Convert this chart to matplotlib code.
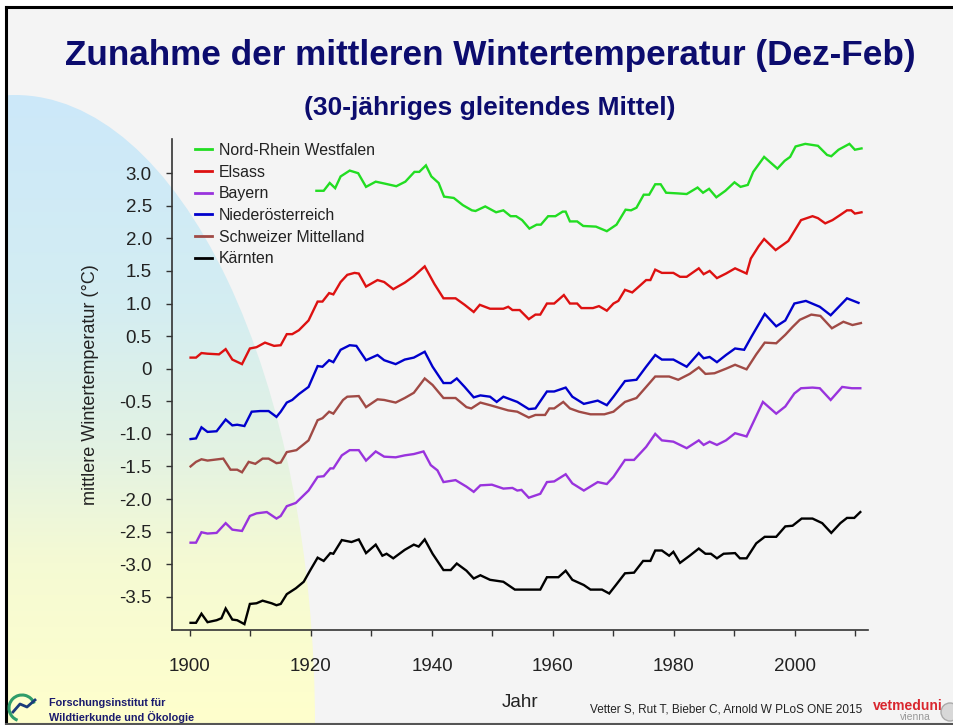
import matplotlib
matplotlib.use("Agg")
import matplotlib.pyplot as plt
import numpy as np
from matplotlib.patches import Ellipse, Rectangle, Arc, Circle
from matplotlib.lines import Line2D

plt.rcParams['font.family'] = ['Liberation Sans', 'DejaVu Sans']

# ---------------- data (year, 30-yr moving mean of winter temperature) ----------------
series_names = ["Nord-Rhein Westfalen", "Elsass", "Bayern", "Niederösterreich",
                "Schweizer Mittelland", "Kärnten"]
series_colors = ["#22dd22", "#dd1111", "#9933dd", "#0000cc", "#a04a45", "#000000"]

nrw = [(1920.9, 2.73), (1922.1, 2.73), (1923.1, 2.85), (1924.0, 2.77), (1924.9, 2.95), (1926.4, 3.04),
       (1927.8, 3.00), (1929.1, 2.79), (1930.7, 2.87), (1932.2, 2.84), (1934.1, 2.80), (1935.6, 2.87),
       (1937.1, 3.02), (1937.9, 3.02), (1939.0, 3.12), (1939.9, 2.95), (1941.1, 2.85), (1942.0, 2.64),
       (1943.6, 2.62), (1945.1, 2.51), (1946.6, 2.43), (1947.2, 2.42), (1948.8, 2.49), (1950.6, 2.40),
       (1951.8, 2.43), (1953.0, 2.34), (1953.9, 2.34), (1954.9, 2.28), (1956.1, 2.15), (1957.3, 2.21),
       (1958.0, 2.21), (1959.2, 2.34), (1960.4, 2.34), (1961.6, 2.41), (1962.1, 2.41), (1962.8, 2.26),
       (1964.0, 2.26), (1965.0, 2.19), (1967.1, 2.18), (1968.9, 2.11), (1970.5, 2.21), (1972.0, 2.44),
       (1972.9, 2.43), (1973.8, 2.47), (1975.0, 2.67), (1975.9, 2.67), (1976.9, 2.83), (1977.8, 2.83),
       (1978.7, 2.70), (1980.6, 2.69), (1982.1, 2.68), (1983.9, 2.78), (1984.8, 2.70), (1985.8, 2.76),
       (1987.0, 2.63), (1988.5, 2.73), (1990.0, 2.86), (1991.0, 2.79), (1992.2, 2.82), (1993.1, 3.02),
       (1994.9, 3.25), (1997.1, 3.07), (1998.3, 3.19), (1999.2, 3.25), (2000.1, 3.41), (2001.7, 3.45),
       (2003.8, 3.42), (2005.3, 3.28), (2006.0, 3.26), (2007.2, 3.36), (2009.0, 3.45), (2009.9, 3.36),
       (2011.0, 3.38)]

elsass = [(1900.1, 0.17), (1901.0, 0.17), (1901.9, 0.24), (1902.9, 0.23), (1904.8, 0.22), (1905.9, 0.30),
          (1907.0, 0.14), (1908.6, 0.07), (1909.9, 0.31), (1911.0, 0.33), (1912.4, 0.40), (1913.9, 0.35),
          (1915.0, 0.36), (1916.0, 0.53), (1916.9, 0.53), (1918.0, 0.59), (1919.6, 0.74), (1921.1, 1.03),
          (1921.9, 1.03), (1923.0, 1.16), (1923.7, 1.14), (1924.9, 1.33), (1926.0, 1.44), (1927.2, 1.47),
          (1927.9, 1.46), (1929.1, 1.26), (1931.0, 1.36), (1932.1, 1.33), (1933.6, 1.22), (1935.5, 1.32),
          (1937.0, 1.42), (1938.8, 1.57), (1940.4, 1.30), (1941.9, 1.08), (1943.9, 1.08), (1945.4, 0.98),
          (1946.9, 0.87), (1947.9, 0.98), (1949.6, 0.92), (1951.8, 0.92), (1952.6, 0.95), (1953.3, 0.90),
          (1954.5, 0.90), (1956.0, 0.76), (1957.1, 0.83), (1957.9, 0.83), (1959.0, 1.00), (1960.2, 1.00),
          (1961.8, 1.13), (1962.8, 1.00), (1964.0, 1.00), (1964.7, 0.93), (1966.6, 0.93), (1967.6, 0.96),
          (1968.9, 0.89), (1970.0, 1.00), (1970.8, 1.04), (1971.9, 1.21), (1973.1, 1.17), (1974.2, 1.26),
          (1975.4, 1.36), (1976.1, 1.36), (1976.9, 1.52), (1978.0, 1.47), (1979.9, 1.47), (1981.0, 1.41),
          (1982.1, 1.41), (1984.1, 1.54), (1984.9, 1.45), (1985.9, 1.50), (1987.1, 1.39), (1988.6, 1.46),
          (1990.1, 1.54), (1992.0, 1.46), (1992.7, 1.69), (1994.0, 1.88), (1994.9, 1.99), (1996.8, 1.82),
          (1998.9, 1.96), (2001.0, 2.28), (2002.9, 2.34), (2003.8, 2.31), (2005.0, 2.23), (2006.2, 2.28),
          (2007.5, 2.36), (2008.6, 2.43), (2009.3, 2.43), (2009.9, 2.38), (2011.0, 2.40)]

bayern = [(1900.1, -2.67), (1901.0, -2.67), (1901.9, -2.51), (1902.9, -2.53), (1904.4, -2.52), (1905.9, -2.37),
          (1907.0, -2.47), (1908.6, -2.49), (1909.9, -2.26), (1911.0, -2.22), (1912.7, -2.20), (1914.3, -2.30),
          (1915.0, -2.26), (1916.0, -2.11), (1917.5, -2.06), (1919.6, -1.87), (1921.1, -1.66), (1922.1, -1.65),
          (1923.2, -1.53), (1923.7, -1.53), (1925.1, -1.33), (1926.4, -1.25), (1927.9, -1.25), (1929.1, -1.41),
          (1930.7, -1.27), (1932.1, -1.35), (1934.0, -1.36), (1935.5, -1.33), (1937.0, -1.31), (1938.6, -1.27),
          (1939.8, -1.48), (1940.9, -1.56), (1941.9, -1.74), (1943.9, -1.71), (1945.7, -1.81), (1946.9, -1.89),
          (1948.0, -1.79), (1949.9, -1.78), (1951.8, -1.84), (1953.3, -1.83), (1954.1, -1.87), (1954.8, -1.86),
          (1956.0, -1.98), (1957.9, -1.92), (1959.0, -1.74), (1960.2, -1.73), (1962.1, -1.62), (1963.2, -1.76),
          (1965.1, -1.87), (1967.4, -1.74), (1968.9, -1.77), (1970.0, -1.66), (1971.9, -1.40), (1973.4, -1.40),
          (1975.4, -1.20), (1976.9, -1.00), (1978.0, -1.10), (1979.9, -1.12), (1982.1, -1.22), (1984.1, -1.10),
          (1984.9, -1.17), (1985.9, -1.12), (1987.1, -1.17), (1988.6, -1.10), (1990.1, -0.99), (1992.0, -1.04),
          (1994.7, -0.51), (1996.9, -0.69), (1998.4, -0.58), (1999.9, -0.38), (2001.0, -0.30), (2002.9, -0.29),
          (2004.1, -0.30), (2005.9, -0.48), (2007.8, -0.28), (2009.4, -0.30), (2010.8, -0.30)]

noe = [(1900.1, -1.08), (1901.0, -1.07), (1901.9, -0.90), (1902.9, -0.97), (1904.4, -0.96), (1905.9, -0.78),
       (1907.0, -0.87), (1907.8, -0.86), (1909.0, -0.88), (1910.2, -0.66), (1911.6, -0.65), (1913.0, -0.65),
       (1914.3, -0.74), (1915.0, -0.66), (1916.0, -0.52), (1916.9, -0.48), (1918.0, -0.39), (1919.6, -0.28),
       (1921.1, 0.04), (1921.9, 0.03), (1923.0, 0.13), (1923.7, 0.10), (1924.9, 0.29), (1926.4, 0.36),
       (1927.5, 0.35), (1929.1, 0.13), (1931.0, 0.21), (1932.1, 0.13), (1934.0, 0.07), (1935.5, 0.14),
       (1937.0, 0.17), (1938.8, 0.26), (1940.1, 0.03), (1941.9, -0.22), (1943.1, -0.22), (1944.1, -0.15),
       (1945.4, -0.28), (1946.9, -0.44), (1948.0, -0.41), (1949.6, -0.43), (1950.7, -0.51), (1951.8, -0.43),
       (1954.1, -0.51), (1956.0, -0.62), (1957.1, -0.61), (1959.0, -0.35), (1960.2, -0.35), (1962.1, -0.29),
       (1963.2, -0.43), (1965.1, -0.54), (1967.4, -0.49), (1968.9, -0.56), (1970.0, -0.43), (1971.9, -0.19),
       (1973.8, -0.17), (1975.4, 0.03), (1976.9, 0.21), (1978.0, 0.14), (1979.9, 0.14), (1982.1, 0.03),
       (1984.1, 0.24), (1984.9, 0.16), (1985.9, 0.18), (1987.1, 0.10), (1988.6, 0.21), (1990.1, 0.31),
       (1991.6, 0.29), (1992.8, 0.49), (1995.0, 0.84), (1996.9, 0.65), (1998.4, 0.74), (1999.9, 1.00),
       (2001.8, 1.04), (2004.1, 0.95), (2005.9, 0.82), (2008.6, 1.08), (2010.5, 1.01)]

schweiz = [(1900.1, -1.50), (1901.0, -1.43), (1901.9, -1.39), (1902.9, -1.41), (1905.5, -1.38), (1906.7, -1.55),
           (1907.8, -1.55), (1908.6, -1.59), (1909.7, -1.43), (1910.8, -1.46), (1912.0, -1.38), (1913.0, -1.38),
           (1914.3, -1.45), (1915.0, -1.44), (1916.0, -1.28), (1917.6, -1.25), (1919.6, -1.10), (1921.1, -0.79),
           (1921.9, -0.76), (1923.0, -0.66), (1923.7, -0.69), (1925.3, -0.48), (1926.0, -0.43), (1927.9, -0.42),
           (1929.1, -0.59), (1931.0, -0.47), (1932.1, -0.48), (1934.0, -0.52), (1935.5, -0.45), (1937.0, -0.37),
           (1938.8, -0.15), (1940.1, -0.25), (1941.9, -0.45), (1943.9, -0.45), (1945.7, -0.59), (1946.5, -0.61),
           (1948.0, -0.52), (1949.6, -0.56), (1952.6, -0.64), (1954.1, -0.66), (1956.0, -0.75), (1957.1, -0.71),
           (1958.7, -0.71), (1959.4, -0.61), (1960.2, -0.61), (1961.7, -0.51), (1962.8, -0.61), (1964.3, -0.66),
           (1966.2, -0.70), (1968.5, -0.70), (1970.0, -0.66), (1971.9, -0.51), (1973.8, -0.45), (1975.4, -0.28),
           (1976.9, -0.12), (1979.2, -0.12), (1980.7, -0.17), (1982.6, -0.08), (1984.1, 0.02), (1985.2, -0.08),
           (1986.7, -0.07), (1988.6, 0.00), (1990.1, 0.06), (1992.0, -0.01), (1993.6, 0.22), (1995.0, 0.40),
           (1996.9, 0.39), (1998.4, 0.52), (1999.6, 0.64), (2000.8, 0.75), (2002.7, 0.83), (2004.2, 0.81),
           (2006.1, 0.62), (2008.0, 0.72), (2009.5, 0.67), (2010.9, 0.70)]

kaernten = [(1900.1, -3.90), (1901.0, -3.90), (1901.9, -3.76), (1902.9, -3.89), (1904.4, -3.86), (1905.2, -3.83),
            (1905.9, -3.68), (1907.0, -3.85), (1907.8, -3.86), (1909.0, -3.92), (1909.9, -3.61), (1911.0, -3.60),
            (1912.0, -3.56), (1913.5, -3.60), (1914.3, -3.63), (1915.0, -3.61), (1916.0, -3.46), (1917.5, -3.37),
            (1918.8, -3.27), (1919.9, -3.09), (1921.1, -2.90), (1922.1, -2.95), (1923.2, -2.83), (1923.7, -2.84),
            (1925.1, -2.63), (1926.7, -2.66), (1927.9, -2.62), (1929.1, -2.83), (1930.7, -2.70), (1931.8, -2.87),
            (1932.5, -2.84), (1933.6, -2.91), (1935.5, -2.78), (1937.0, -2.70), (1937.8, -2.73), (1938.8, -2.62),
            (1940.1, -2.84), (1941.9, -3.09), (1943.1, -3.09), (1944.1, -2.99), (1945.7, -3.10), (1946.9, -3.22),
            (1948.0, -3.17), (1949.6, -3.24), (1951.8, -3.27), (1953.7, -3.39), (1957.9, -3.39), (1959.0, -3.20),
            (1960.9, -3.20), (1962.1, -3.10), (1963.2, -3.24), (1965.1, -3.32), (1966.2, -3.39), (1968.1, -3.39),
            (1969.3, -3.45), (1970.4, -3.32), (1971.9, -3.14), (1973.4, -3.13), (1974.9, -2.95), (1976.1, -2.95),
            (1976.9, -2.79), (1978.0, -2.79), (1979.2, -2.87), (1979.9, -2.81), (1981.0, -2.98), (1982.6, -2.87),
            (1984.1, -2.76), (1985.2, -2.84), (1986.1, -2.84), (1987.1, -2.91), (1988.2, -2.84), (1990.1, -2.83),
            (1990.9, -2.91), (1992.0, -2.91), (1993.6, -2.68), (1995.0, -2.58), (1996.9, -2.58), (1998.4, -2.42),
            (1999.6, -2.41), (2001.1, -2.30), (2002.9, -2.30), (2004.5, -2.37), (2006.0, -2.52), (2007.5, -2.37),
            (2008.6, -2.29), (2009.8, -2.29), (2010.8, -2.20)]

series_data = [nrw, elsass, bayern, noe, schweiz, kaernten]

x_ticks = list(range(1900, 2011, 10))
x_ticklabels = [str(t) if t % 20 == 0 else "" for t in x_ticks]
y_ticks = [3.0, 2.5, 2.0, 1.5, 1.0, 0.5, 0.0, -0.5, -1.0, -1.5, -2.0, -2.5, -3.0, -3.5]
y_ticklabels = ["3.0", "2.5", "2.0", "1.5", "1.0", "0.5", "0", "-0.5", "-1.0", "-1.5",
                "-2.0", "-2.5", "-3.0", "-3.5"]

title = "Zunahme der mittleren Wintertemperatur (Dez-Feb)"
subtitle = "(30-jähriges gleitendes Mittel)"
ylabel = "mittlere Wintertemperatur (°C)"
xlabel = "Jahr"

# ---------------- figure / slide background ----------------
W, H = 954, 725
fig = plt.figure(figsize=(9.54, 7.25), dpi=100)
fig.patch.set_facecolor("white")

bg = fig.add_axes([0, 0, 1, 1])
bg.axis("off")
bg.add_patch(Rectangle((6, 7), W - 6, H - 9, facecolor="#f4f4f4", edgecolor="none", zorder=0))

# decorative gradient quarter-ellipse (blue -> yellow)
stops_y = [90, 300, 450, 560, 725]
stops_c = np.array([[0.80, 0.91, 0.98], [0.83, 0.93, 0.95], [0.89, 0.95, 0.89],
                    [0.96, 0.98, 0.83], [1.00, 1.00, 0.80]])
yy = np.linspace(90, 725, 300)
grad = np.stack([np.interp(yy, stops_y, stops_c[:, k]) for k in range(3)], axis=1)[:, None, :]
im = bg.imshow(grad, extent=(6, 330, 725, 90), aspect="auto", zorder=1, interpolation="bilinear")
ell = Ellipse((15, 725), 600, 1260, facecolor="none", edgecolor="none")
bg.add_patch(ell)
im.set_clip_path(ell)

bg.plot([6, 6], [7, 725], color="black", lw=2.2, zorder=3)
bg.plot([6, W], [7, 7], color="black", lw=2.2, zorder=3)
bg.plot([6, W], [723.5, 723.5], color="#555555", lw=1.5, zorder=3)

# small logos
bg.add_patch(Arc((22, 708), 26, 26, theta1=110, theta2=340, color="#2f9d6a", lw=2.2, zorder=3))
bg.plot([13, 20, 27, 35], [712, 704, 707, 700], color="#1b3b7a", lw=2.0, zorder=3)
bg.add_patch(Circle((950, 712), 9, facecolor="#d8d8d8", edgecolor="#aaaaaa", lw=1, zorder=3))

bg.set_xlim(0, W)
bg.set_ylim(H, 0)

navy = "#0c0c6e"
fig.text(490 / W, 1 - 55 / H, title, ha="center", va="center", fontsize=25.3,
         fontweight="bold", color=navy)
fig.text(490 / W, 1 - 108 / H, subtitle, ha="center", va="center", fontsize=19,
         fontweight="bold", color=navy)

fig.text(49 / W, 1 - 703 / H, "Forschungsinstitut für", ha="left", va="center",
         fontsize=7.8, fontweight="bold", color="#1a1a6e")
fig.text(49 / W, 1 - 717 / H, "Wildtierkunde und Ökologie", ha="left", va="center",
         fontsize=7.8, fontweight="bold", color="#1a1a6e")
fig.text(590 / W, 1 - 710 / H, "Vetter S, Rut T, Bieber C, Arnold W PLoS ONE 2015",
         ha="left", va="center", fontsize=8.5, color="#222222")
fig.text(873 / W, 1 - 706 / H, "vetmeduni", ha="left", va="center", fontsize=10,
         fontweight="bold", color="#d9262e")
fig.text(900 / W, 1 - 717 / H, "vienna", ha="left", va="center", fontsize=7.5,
         color="#999999")

# ---------------- main axes ----------------
ax = fig.add_axes([171.7 / W, 1 - 630 / H, (868 - 171.7) / W, (630 - 139.3) / H])
ax.set_facecolor("none")
for name, col, data in zip(series_names, series_colors, series_data):
    xs = [p[0] for p in data]
    ys = [p[1] for p in data]
    ax.plot(xs, ys, color=col, lw=1.7, label=name, solid_joinstyle="miter")

ax.set_xlim(1896.98, 2012.07)
ax.set_ylim(-4.01, 3.52)
for s in ["top", "right"]:
    ax.spines[s].set_visible(False)
for s in ["left", "bottom"]:
    ax.spines[s].set_color("#333333")
    ax.spines[s].set_linewidth(1.2)

ax.set_xticks(x_ticks)
ax.set_xticklabels(x_ticklabels)
ax.set_yticks(y_ticks)
ax.set_yticklabels(y_ticklabels)
ax.tick_params(axis="both", direction="out", length=4.3, width=1.0, colors="#333333",
               labelcolor="#222222", labelsize=13.5)
ax.tick_params(axis="x", pad=16)
ax.tick_params(axis="y", pad=10)

ax.set_ylabel(ylabel, fontsize=13, color="#222222")
ax.yaxis.set_label_coords(-0.104, 0.5)
ax.set_xlabel(xlabel, fontsize=13.5, color="#222222")
ax.xaxis.set_label_coords(0.5, -0.131)

handles = [Line2D([], [], color=c, lw=2.0) for c in series_colors]
leg = ax.legend(handles, series_names, loc="upper left",
                bbox_to_anchor=(195 / W, 1 - 143 / H), bbox_transform=fig.transFigure,
                frameon=False, fontsize=11.4, handlelength=1.05, handletextpad=0.45,
                labelspacing=0.42, borderpad=0, borderaxespad=0)
for t in leg.get_texts():
    t.set_color("#222222")

fig.savefig("out.png", dpi=100, facecolor=fig.get_facecolor())
